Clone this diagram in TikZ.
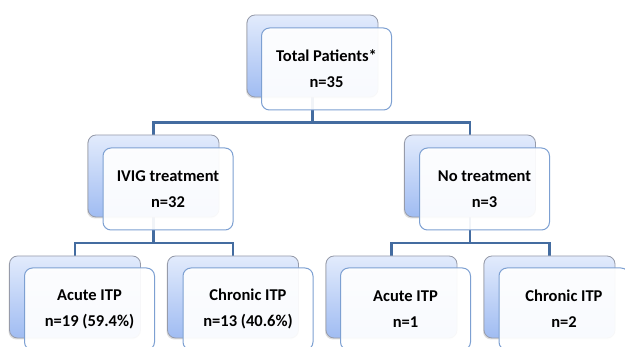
\documentclass[tikz,border=0pt]{standalone}
\usepackage{fontspec}
\setmainfont{Carlito}
\usetikzlibrary{backgrounds,shadows}
\definecolor{conncol}{RGB}{68,108,160}
\definecolor{frontborder}{RGB}{125,160,210}
\definecolor{backborder}{RGB}{150,155,170}
\definecolor{backtop}{RGB}{226,235,252}
\definecolor{backbot}{RGB}{160,188,242}
\tikzset{
  backbox/.style={draw=backborder, line width=0.8pt, rounded corners=8pt,
    minimum width=131pt, minimum height=82pt, inner sep=0pt,
    top color=backtop, bottom color=backbot,
    drop shadow={shadow xshift=-1pt, shadow yshift=-1.5pt, opacity=0.25}},
  frontbox/.style={draw=frontborder, line width=1pt, rounded corners=8pt,
    fill=white, fill opacity=0.93, text opacity=1,
    minimum width=130pt, minimum height=82pt, inner sep=0pt,
    align=center, font=\fontsize{16.5}{26}\selectfont\bfseries},
  conn/.style={draw=conncol, line width=2.8pt}
}
\begin{document}
\begin{tikzpicture}[x=1pt,y=-1pt]
\useasboundingbox (0,0) rectangle (625,347);
% back boxes
\node[backbox] (topb) at (312.5,56) {};
\node[backbox] (ivigb) at (153.5,176) {};
\node[backbox] (nob) at (470,176) {};
\node[backbox] (aLb) at (75,297) {};
\node[backbox] (cLb) at (233,297) {};
\node[backbox] (aRb) at (391.5,297) {};
\node[backbox] (cRb) at (549.5,297) {};
% front boxes
\node[frontbox] (top) at (326.5,69) {Total Patients*\\n=35};
\node[frontbox] (ivig) at (168,189) {IVIG treatment\\n=32};
\node[frontbox] (no) at (484.5,189) {No treatment\\n=3};
\node[frontbox] (aL) at (89.5,309) {Acute ITP\\n=19 (59.4\%)};
\node[frontbox] (cL) at (248,309) {Chronic ITP\\n=13 (40.6\%)};
\node[frontbox] (aR) at (405.5,309) {Acute ITP\\n=1};
\node[frontbox] (cR) at (564,309) {Chronic ITP\\n=2};
% connectors
\coordinate (j1) at (312.5,122.5);
\coordinate (j2) at (153.5,243);
\coordinate (j3) at (470,243);
\begin{scope}[on background layer]
\fill[white] (0,0) rectangle (625,347);
\draw[conn] (topb.center) -- (j1);
\draw[conn] (ivigb.center) |- (j1) -| (nob.center);
\draw[conn] (ivigb.center) -- (j2);
\draw[conn] (aLb.center) |- (j2) -| (cLb.center);
\draw[conn] (nob.center) -- (j3);
\draw[conn] (aRb.center) |- (j3) -| (cRb.center);
\end{scope}
\end{tikzpicture}
\end{document}
